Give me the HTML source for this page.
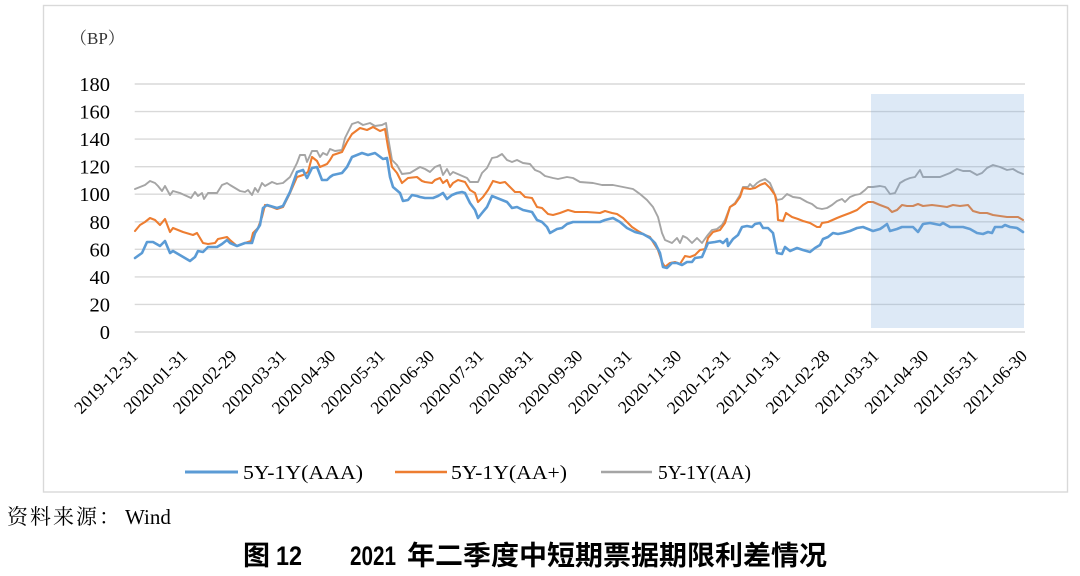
<!DOCTYPE html>
<html>
<head>
<meta charset="utf-8">
<style>
  html, body { margin: 0; padding: 0; background: #ffffff; }
  body { width: 1080px; height: 576px; overflow: hidden; }
  svg { display: block; }
</style>
</head>
<body>
<svg width="1080" height="576" viewBox="0 0 1080 576" xmlns="http://www.w3.org/2000/svg">
  <rect x="0" y="0" width="1080" height="576" fill="#ffffff"/>
  <!-- frame -->
  <rect x="43.5" y="5.5" width="1024" height="486.5" fill="none" stroke="#d9d9d9" stroke-width="1.4"/>

  <!-- unit -->
  <text x="70" y="44" font-family="Liberation Serif, 'Noto Serif CJK SC', serif" font-size="17" fill="#333">（BP）</text>

  <!-- gridlines -->
  <g stroke="#d9d9d9" stroke-width="1.4">
    <line x1="134.7" y1="84" x2="1025" y2="84"/>
    <line x1="134.7" y1="111.56" x2="1025" y2="111.56"/>
    <line x1="134.7" y1="139.11" x2="1025" y2="139.11"/>
    <line x1="134.7" y1="166.67" x2="1025" y2="166.67"/>
    <line x1="134.7" y1="194.22" x2="1025" y2="194.22"/>
    <line x1="134.7" y1="221.78" x2="1025" y2="221.78"/>
    <line x1="134.7" y1="249.33" x2="1025" y2="249.33"/>
    <line x1="134.7" y1="276.89" x2="1025" y2="276.89"/>
    <line x1="134.7" y1="304.44" x2="1025" y2="304.44"/>
    <line x1="134.7" y1="332" x2="1025" y2="332"/>
  </g>

  <!-- y labels -->
  <g font-family="Liberation Serif, serif" font-size="20.5" fill="#000" text-anchor="end">
    <text x="110" y="91">180</text>
    <text x="110" y="118.6">160</text>
    <text x="110" y="146.1">140</text>
    <text x="110" y="173.7">120</text>
    <text x="110" y="201.2">100</text>
    <text x="110" y="228.8">80</text>
    <text x="110" y="256.3">60</text>
    <text x="110" y="283.9">40</text>
    <text x="110" y="311.4">20</text>
    <text x="110" y="339">0</text>
  </g>

  <!-- x labels -->
  <g font-family="Liberation Serif, serif" font-size="17.5" fill="#000" text-anchor="end">
    <text transform="translate(139,357) rotate(-45)">2019-12-31</text>
    <text transform="translate(188.4,357) rotate(-45)">2020-01-31</text>
    <text transform="translate(237.8,357) rotate(-45)">2020-02-29</text>
    <text transform="translate(287.2,357) rotate(-45)">2020-03-31</text>
    <text transform="translate(336.6,357) rotate(-45)">2020-04-30</text>
    <text transform="translate(386,357) rotate(-45)">2020-05-31</text>
    <text transform="translate(435.4,357) rotate(-45)">2020-06-30</text>
    <text transform="translate(484.8,357) rotate(-45)">2020-07-31</text>
    <text transform="translate(534.2,357) rotate(-45)">2020-08-31</text>
    <text transform="translate(583.6,357) rotate(-45)">2020-09-30</text>
    <text transform="translate(633,357) rotate(-45)">2020-10-31</text>
    <text transform="translate(682.4,357) rotate(-45)">2020-11-30</text>
    <text transform="translate(731.8,357) rotate(-45)">2020-12-31</text>
    <text transform="translate(781.2,357) rotate(-45)">2021-01-31</text>
    <text transform="translate(830.6,357) rotate(-45)">2021-02-28</text>
    <text transform="translate(880,357) rotate(-45)">2021-03-31</text>
    <text transform="translate(929.4,357) rotate(-45)">2021-04-30</text>
    <text transform="translate(978.8,357) rotate(-45)">2021-05-31</text>
    <text transform="translate(1028.2,357) rotate(-45)">2021-06-30</text>
  </g>

  <!-- series -->
  <g fill="none" stroke-linejoin="round" stroke-linecap="round">
    <polyline stroke="#a5a5a5" stroke-width="1.9" points="135,189 140,187 145,185 150,181 155,183 158,186 162,191 165,186 170,195 173,191 180,193 191,198 195,192 198,196 202,193 204,199 208,193 217,193 222,185 227,183 230,185 240,191 245,192 248,190 252,195 255,188 258,192 262,183 265,186 272,182 277,184 283,183 290,177 297,163 300,155 305,155 307,162 312,151 317,151 320,157 323,153 327,155 330,149 335,151 342,150 345,138 352,124 358,122 363,125 370,123 375,126 382,125 386,123 388,137 392,160 397,165 402,174 410,173 420,167 425,169 430,172 435,167 440,165 443,175 447,169 450,175 453,172 460,175 467,178 470,182 478,182 482,173 487,168 492,158 497,157 502,154 507,160 512,162 517,160 523,163 530,164 535,170 540,172 545,176 553,178 558,179 567,177 573,178 580,182 593,183 602,185 613,185 623,187 633,189 640,194 647,200 653,207 658,217 662,233 665,240 672,243 677,238 680,243 683,236 687,238 692,243 697,238 702,243 707,236 712,230 717,229 722,225 725,220 730,207 735,203 740,195 743,187 748,187 750,184 753,187 757,183 760,181 765,179 770,183 773,190 777,200 782,199 787,194 793,197 800,198 807,202 812,204 817,208 822,209 827,208 832,205 837,201 842,199 845,202 850,197 855,195 860,194 865,190 868,187 873,187 880,186 885,187 890,194 895,193 900,183 905,180 910,178 915,177 920,170 923,177 932,177 940,177 945,175 950,173 957,169 963,171 970,171 977,175 982,173 987,168 993,165 1000,167 1007,170 1013,169 1018,172 1023,174"/>
    <polyline stroke="#ed7d31" stroke-width="2.1" points="135,231 140,225 145,222 150,218 155,220 160,225 165,219 170,232 173,228 183,232 193,235 197,233 203,243 208,244 215,243 218,239 227,237 230,240 237,246 245,243 251,241 253,233 258,228 262,217 265,205 272,207 277,209 283,207 290,193 297,177 303,175 308,172 312,157 317,161 320,167 327,164 330,160 333,155 342,152 347,142 352,134 360,128 367,130 373,127 380,131 385,129 388,147 392,167 397,173 402,183 408,178 417,177 422,181 425,182 432,183 435,180 440,178 443,183 447,180 450,187 453,183 458,180 465,182 470,190 475,193 478,202 483,197 488,190 493,181 500,183 505,182 510,187 515,192 520,192 525,197 532,198 537,207 542,208 548,214 553,215 560,213 568,210 575,212 587,212 600,213 605,211 612,213 617,214 623,218 632,227 638,231 645,235 650,237 653,242 658,250 662,262 665,267 670,263 675,262 680,264 685,256 690,257 695,255 700,250 705,249 708,238 713,232 720,230 725,223 730,207 735,204 740,197 743,188 750,189 755,188 760,185 765,183 770,188 775,195 777,205 778,220 783,221 786,213 792,217 798,219 803,221 810,223 817,227 820,227 822,223 828,222 837,218 842,216 850,213 857,210 863,205 868,202 873,202 880,205 888,208 892,212 897,210 902,205 907,206 913,206 918,204 923,206 932,205 940,206 947,207 953,205 960,206 968,205 973,211 980,213 987,213 993,215 1000,216 1007,217 1013,217 1018,217 1023,220"/>
    <polyline stroke="#5b9bd5" stroke-width="2.6" points="135,258 142,253 147,242 153,242 160,246 165,241 170,253 173,251 190,261 195,257 198,251 203,252 208,247 217,247 222,244 227,240 230,243 237,246 245,243 252,243 255,233 260,225 263,208 267,205 277,208 283,206 290,192 297,172 303,170 307,178 312,168 317,167 322,180 327,180 330,177 333,175 342,173 347,167 352,157 362,153 368,155 375,153 383,159 387,158 390,177 393,187 400,193 403,201 408,200 412,195 417,196 420,197 425,198 433,198 438,196 443,193 447,199 452,195 457,193 462,192 465,193 470,203 475,210 478,218 482,213 487,207 492,196 497,198 502,200 507,202 512,208 517,207 523,210 532,212 537,220 542,222 547,227 550,233 557,229 562,228 567,224 573,222 580,222 600,222 605,220 613,218 620,222 627,228 635,232 643,234 650,238 655,243 660,253 663,267 667,268 672,263 677,263 682,265 687,262 692,262 695,258 702,257 705,250 708,243 715,242 720,241 723,243 727,239 728,246 733,239 738,235 742,227 747,226 752,227 755,224 760,223 763,228 768,228 773,233 777,253 782,254 785,247 790,251 797,248 803,250 810,252 815,248 820,245 823,239 828,237 833,233 838,234 843,233 850,231 857,228 863,227 868,229 873,231 880,229 883,227 887,224 890,231 897,229 902,227 908,227 913,227 918,232 923,224 930,223 940,225 943,223 950,227 957,227 963,227 970,229 977,233 983,234 988,232 992,233 995,227 1002,227 1005,225 1010,227 1017,228 1023,232"/>
  </g>

  <!-- highlight overlay -->
  <rect x="871" y="94" width="153" height="234" fill="rgb(119,167,219)" fill-opacity="0.25"/>

  <!-- legend -->
  <line x1="185" y1="472" x2="238" y2="472" stroke="#5b9bd5" stroke-width="3"/>
  <line x1="395" y1="472" x2="447" y2="472" stroke="#ed7d31" stroke-width="2.4"/>
  <line x1="601" y1="472" x2="652" y2="472" stroke="#a5a5a5" stroke-width="2.4"/>
  <g font-family="Liberation Serif, serif" font-size="19.5" fill="#000">
    <text x="243" y="479" textLength="120" lengthAdjust="spacingAndGlyphs">5Y-1Y(AAA)</text>
    <text x="451" y="479" textLength="116" lengthAdjust="spacingAndGlyphs">5Y-1Y(AA+)</text>
    <text x="658" y="479" textLength="93" lengthAdjust="spacingAndGlyphs">5Y-1Y(AA)</text>
  </g>

  <!-- source -->
  <text x="7" y="524" font-family="Liberation Serif, 'Noto Serif CJK SC', serif" font-size="21" letter-spacing="2" fill="#000">资料来源：</text>
  <text x="125" y="524" font-family="Liberation Serif, serif" font-size="21" fill="#000">Wind</text>

  <!-- title -->
  <g font-family="Liberation Sans, 'Noto Sans CJK SC', sans-serif" font-size="27" font-weight="bold" fill="#000">
    <text x="243" y="565">图</text>
    <text x="276" y="565" textLength="26" lengthAdjust="spacingAndGlyphs">12</text>
    <text x="350" y="565" textLength="46" lengthAdjust="spacingAndGlyphs">2021</text>
    <text x="407" y="565" textLength="420" lengthAdjust="spacingAndGlyphs">年二季度中短期票据期限利差情况</text>
  </g>
</svg>
</body>
</html>
